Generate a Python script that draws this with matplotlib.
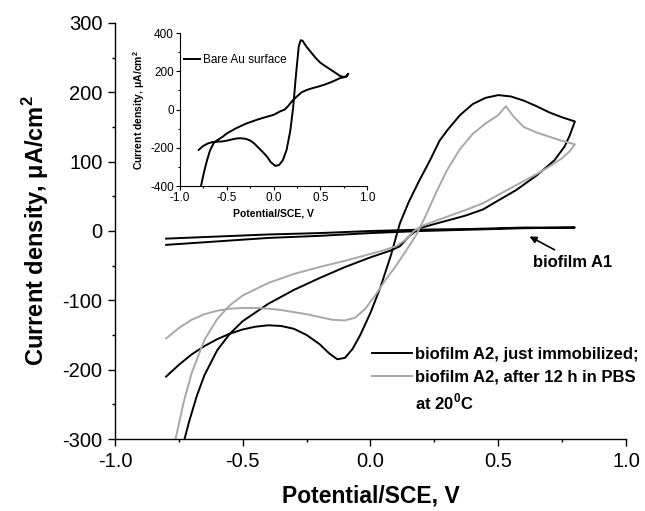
import matplotlib
matplotlib.use('Agg')
import matplotlib.pyplot as plt
from matplotlib.ticker import MultipleLocator

plt.rcParams['font.family'] = ['Liberation Sans', 'DejaVu Sans']
plt.rcParams['mathtext.fontset'] = 'custom'
plt.rcParams['mathtext.rm'] = 'Liberation Sans'
plt.rcParams['mathtext.bf'] = 'Liberation Sans:bold'
plt.rcParams['axes.unicode_minus'] = False

black = (0, 0, 0, 1)
gray = '#a8a8a8'

# biofilm A2, just immobilized (one sweep loop)
a2_fresh_x = [-0.80, -0.75, -0.70, -0.65, -0.60, -0.55, -0.50, -0.45, -0.40, -0.35,
              -0.30, -0.25, -0.20, -0.16, -0.13, -0.10, -0.07, -0.04, 0.00, 0.04,
              0.08, 0.115, 0.15, 0.19, 0.233, 0.27, 0.30, 0.35, 0.40, 0.45,
              0.50, 0.55, 0.60, 0.65, 0.70, 0.75, 0.80,
              0.78, 0.76, 0.72, 0.65, 0.57, 0.50, 0.44, 0.37, 0.31,
              0.25, 0.19, 0.15, 0.115, 0.08, 0.04, 0.00, -0.05, -0.10, -0.20,
              -0.30, -0.40, -0.50, -0.55, -0.60, -0.65, -0.68, -0.71, -0.735]
a2_fresh_y = [-210, -193, -178, -166, -156, -148, -142, -138, -136, -137,
              -141, -150, -163, -177, -185, -183, -170, -150, -118, -80,
              -35, 11, 42, 72, 102, 130, 145, 167, 183, 192,
              196, 194, 188, 180, 171, 164, 158,
              138, 122, 102, 80, 59, 44, 31, 22, 16,
              10, 4, -8, -22, -28, -33, -38, -45, -52, -68,
              -85, -105, -130, -148, -172, -208, -238, -275, -310]

# biofilm A2, after 12 h in PBS at 20 C
a2_pbs_x = [-0.80, -0.75, -0.70, -0.65, -0.60, -0.55, -0.50, -0.45, -0.40, -0.35,
            -0.30, -0.25, -0.20, -0.15, -0.10, -0.06, -0.02, 0.02, 0.06, 0.10,
            0.14, 0.18, 0.22, 0.26, 0.30, 0.35, 0.40, 0.45, 0.50, 0.53,
            0.56, 0.60, 0.65, 0.70, 0.75, 0.80,
            0.78, 0.75, 0.70, 0.65, 0.60, 0.55, 0.50, 0.44, 0.37, 0.31,
            0.25, 0.20, 0.17, 0.14, 0.10, 0.05, 0.00, -0.05, -0.10, -0.20,
            -0.30, -0.40, -0.50, -0.55, -0.60, -0.65, -0.70, -0.73, -0.76, -0.77]
a2_pbs_y = [-155, -140, -128, -120, -115, -112, -111, -111, -112, -114,
            -117, -120, -124, -128, -129, -125, -112, -92, -70, -50,
            -28, -5, 25, 58, 88, 118, 140, 155, 167, 180,
            165, 150, 142, 136, 130, 125,
            115, 105, 93, 82, 72, 62, 52, 40, 30, 22,
            14, 7, 0, -12, -22, -28, -33, -38, -43, -52,
            -62, -75, -93, -107, -127, -157, -205, -245, -295, -310]

# biofilm A1
a1_x = [-0.80, -0.60, -0.40, -0.20, 0.00, 0.20, 0.40, 0.60, 0.80,
        0.60, 0.40, 0.20, 0.00, -0.20, -0.40, -0.60, -0.80]
a1_y = [-20, -15, -10, -7, -3, 0, 2, 4, 5,
        5, 3, 2, 0, -3, -5, -8, -11]

# inset: bare Au surface
au_x = [-0.80, -0.75, -0.70, -0.65, -0.60, -0.55, -0.50, -0.45, -0.40, -0.36,
        -0.30, -0.25, -0.21, -0.15, -0.10, -0.07, -0.03, 0.02, 0.06, 0.10,
        0.14, 0.18, 0.21, 0.24, 0.27, 0.29, 0.31, 0.35, 0.40, 0.45,
        0.50, 0.55, 0.60, 0.65, 0.71, 0.75, 0.78, 0.80,
        0.78, 0.75, 0.71, 0.65, 0.60, 0.54, 0.48, 0.42, 0.36, 0.30,
        0.25, 0.20, 0.16, 0.12, 0.07, 0.04, 0.00, -0.10, -0.18, -0.30,
        -0.40, -0.50, -0.54, -0.60, -0.64, -0.68, -0.71, -0.74, -0.78]
au_y = [-211, -190, -177, -170, -168, -167, -163, -157, -152, -150,
        -153, -162, -176, -205, -230, -246, -275, -295, -290, -265,
        -211, -110, 10, 180, 330, 362, 360, 330, 300, 270,
        245, 228, 212, 196, 176, 170, 174, 187,
        172, 168, 164, 150, 140, 129, 120, 112, 103, 90,
        68, 45, 20, 0, -10, -18, -28, -42, -54, -75,
        -98, -125, -141, -160, -176, -215, -264, -320, -410]

xticks = [-1.0, -0.5, 0.0, 0.5, 1.0]
main_yticks = [-300, -200, -100, 0, 100, 200, 300]
inset_yticks = [-400, -200, 0, 200, 400]

fig = plt.figure(figsize=(6.45, 5.11), dpi=100)
ax = fig.add_axes([0.1783, 0.1409, 0.7922, 0.8141])

ax.plot(a1_x, a1_y, color=black, lw=1.4)
ax.plot(a2_fresh_x, a2_fresh_y, color=black, lw=1.4, label='biofilm A2, just immobilized;')
ax.plot(a2_pbs_x, a2_pbs_y, color=gray, lw=1.4, label='biofilm A2, after 12 h in PBS')

ax.set_xlim(-1.0, 1.0)
ax.set_ylim(-300, 300)
ax.set_xticks(xticks)
ax.set_xticklabels(['%.1f' % v for v in xticks])
ax.set_yticks(main_yticks)
ax.xaxis.set_minor_locator(MultipleLocator(0.25))
ax.yaxis.set_minor_locator(MultipleLocator(50))
ax.tick_params(which='major', length=5, width=1, labelsize=14.5, pad=4)
ax.tick_params(which='minor', length=2.5, width=1)
for s in ['top', 'right']:
    ax.spines[s].set_visible(False)
for s in ['left', 'bottom']:
    ax.spines[s].set_linewidth(1)

ax.set_xlabel('Potential/SCE, V', fontsize=16.5, fontweight='bold')
ax.set_ylabel(r'Current density, $\mathregular{\mu}$A/cm$^{\mathbf{2}}$', fontsize=17, fontweight='bold')
ax.xaxis.set_label_coords(0.5, -0.11)
ax.yaxis.set_label_coords(-0.125, 0.5)

leg = ax.legend(loc='upper left', bbox_to_anchor=(0.503, 0.222), frameon=False,
                handlelength=2.4, handletextpad=0.18, labelspacing=0.48,
                borderaxespad=0, borderpad=0,
                prop={'size': 12, 'weight': 'bold'})
ax.text(0.174, -247, 'at 20$^{\\mathbf{0}}$C', fontsize=12, fontweight='bold',
        ha='left', va='center')

ax.annotate('', xy=(0.613, -6), xytext=(0.73, -29),
            arrowprops=dict(arrowstyle='-|>', color=black, lw=1.2, mutation_scale=10))
ax.text(0.793, -46, 'biofilm A1', fontsize=12, fontweight='bold', ha='center', va='center')

# inset
ins = fig.add_axes([0.2791, 0.6360, 0.2899, 0.2994])
ins.plot(au_x, au_y, color=black, lw=1.4, label='Bare Au surface')
ins.set_xlim(-1.0, 1.0)
ins.set_ylim(-400, 400)
ins.set_xticks(xticks)
ins.set_xticklabels(['%.1f' % v for v in xticks])
ins.set_yticks(inset_yticks)
ins.xaxis.set_minor_locator(MultipleLocator(0.25))
ins.yaxis.set_minor_locator(MultipleLocator(100))
ins.tick_params(which='major', length=3, width=0.8, labelsize=8.5, pad=1.5)
ins.tick_params(which='minor', length=1.5, width=0.8)
for s in ['top', 'right']:
    ins.spines[s].set_visible(False)
ins.set_xlabel('Potential/SCE, V', fontsize=7.5, fontweight='bold', labelpad=3)
ins.set_ylabel(r'Current density, $\mathregular{\mu}$A/cm$^{\mathbf{2}}$', fontsize=7.5,
               fontweight='bold', labelpad=2)
ins.legend(loc='upper left', bbox_to_anchor=(0.02, 0.86), frameon=False,
           handlelength=1.4, handletextpad=0.2, borderaxespad=0, borderpad=0,
           prop={'size': 8.5})

plt.savefig('out.png', dpi=100)
